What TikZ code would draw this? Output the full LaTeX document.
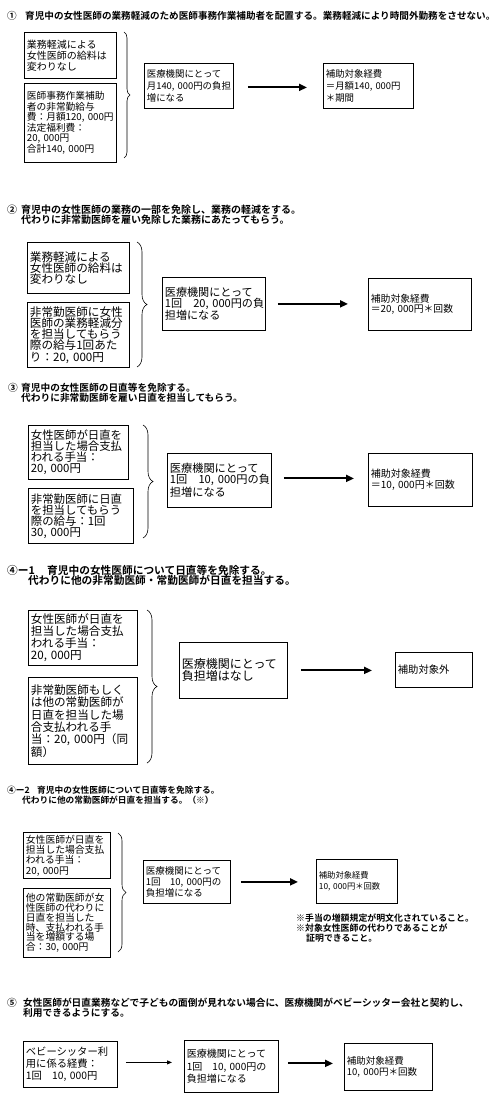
\documentclass[tikz,border=0pt]{standalone}
\usepackage{fontspec}
\setmainfont{Noto Sans CJK JP}[BoldFont={Noto Sans CJK JP Bold}]
\usetikzlibrary{decorations.pathreplacing,arrows.meta,calc}
\newcommand\myfs[2]{\fontsize{#1pt}{#2pt}\selectfont}
\begin{document}
\begin{tikzpicture}[x=1pt,y=-1pt,
  bx/.style={draw,line width=0.8pt,anchor=north west,align=left,inner xsep=2.5pt,inner ysep=0pt},
  ttl/.style={anchor=west,inner sep=0pt,font=\bfseries\myfs{#1}{#1}},
  brc/.style={decorate,decoration={brace,amplitude=#1pt},line width=0.6pt},
  arr/.style={line width=1.9pt,-{Triangle[length=8pt,width=7pt]}},
  arrthin/.style={line width=0.8pt,-{Triangle[length=5pt,width=4pt]}}]
\fill[white] (0,0) rectangle (500,1099);
\useasboundingbox (0,0) rectangle (500,1099);

% ---------- Section 1
\node[ttl=9.6] (n1) at (7,16) {①};
\node[ttl=9.6] (t1) at (25,16) {育児中の女性医師の業務軽減のため医師事務作業補助者を配置する。業務軽減により時間外勤務をさせない。};
\node[bx,text width=87pt,minimum height=46pt,font=\myfs{10}{11}] (a1) at (24,32) {業務軽減による\\女性医師の給料は\\変わりなし};
\node[bx,text width=87pt,minimum height=79pt,font=\myfs{9.7}{10.6}] (b1) at (24,83) {医師事務作業補助\\者の非常勤給与\\費：月額120,~000円\\法定福利費：\\20,~000円\\合計140,~000円};
\coordinate (b1t) at (124,32);
\coordinate (b1b) at (124,158);
\draw[brc=6] (b1t) -- (b1b);
\node[bx,text width=84pt,minimum height=45pt,font=\myfs{9.4}{12}] (m1) at (144,63) {医療機関にとって\\月140,~000円の負担\\増になる};
\node[bx,text width=85pt,minimum height=45pt,font=\myfs{9.4}{12}] (r1) at (323,63) {補助対象経費\\＝月額140,~000円\\＊期間};
\draw[arr] ($(m1.east)+(14,1.5)$) -- ($(r1.west)+(-16,1.5)$);

% ---------- Section 2
\node[ttl=10] (n2) at (7,210) {②};
\node[ttl=10] (t2a) at (21,210) {育児中の女性医師の業務の一部を免除し、業務の軽減をする。};
\node[ttl=10] (t2b) at (21,220) {代わりに非常勤医師を雇い免除した業務にあたってもらう。};
\node[bx,text width=97pt,minimum height=51pt,font=\myfs{11.6}{11}] (a2) at (27,242) {業務軽減による\\女性医師の給料は\\変わりなし};
\node[bx,text width=97pt,minimum height=65pt,font=\myfs{11.6}{11.2}] (b2) at (27,302) {非常勤医師に女性\\医師の業務軽減分\\を担当してもらう\\際の給与1回あた\\り：20,~000円};
\coordinate (b2t) at (137,242);
\coordinate (b2b) at (137,367);
\draw[brc=10] (b2t) -- (b2b);
\node[bx,text width=98pt,minimum height=53pt,font=\myfs{11.1}{11}] (m2) at (162,277) {医療機関にとって\\1回　20,~000円の負\\担増になる};
\node[bx,text width=98pt,minimum height=52pt,font=\myfs{9.8}{10.5}] (r2) at (368,278) {補助対象経費\\＝20,~000円＊回数};
\draw[arr] ($(m2.east)+(12,0)$) -- ($(r2.west |- m2.east)+(-20,0)$);

% ---------- Section 3
\node[ttl=9.7] (n3) at (8,388) {③};
\node[ttl=9.7] (t3a) at (21,388) {育児中の女性医師の日直等を免除する。};
\node[ttl=9.7] (t3b) at (21,398) {代わりに非常勤医師を雇い日直を担当してもらう。};
\node[bx,text width=95pt,minimum height=54pt,font=\myfs{11.4}{11}] (a3) at (28,425) {女性医師が日直を\\担当した場合支払\\われる手当：\\20,~000円};
\node[bx,text width=100pt,minimum height=55pt,font=\myfs{11.4}{11}] (b3) at (28,488) {非常勤医師に日直\\を担当してもらう\\際の給与：1回\\30,~000円};
\coordinate (b3t) at (143,425);
\coordinate (b3b) at (143,538);
\draw[brc=10] (b3t) -- (b3b);
\node[bx,text width=99pt,minimum height=54pt,font=\myfs{11.2}{11}] (m3) at (167,453) {医療機関にとって\\1回　10,~000円の負\\担増になる};
\node[bx,text width=99pt,minimum height=53pt,font=\myfs{10}{10.5}] (r3) at (368,453) {補助対象経費\\＝10,~000円＊回数};
\draw[arr] ($(m3.east)+(12,-2)$) -- ($(r3.west |- m3.east)+(-14,-2)$);

% ---------- Section 4-1
\node[ttl=10.7] (n4) at (7,570) {④ー1};
\node[ttl=10.7] (t4a) at (47,570) {育児中の女性医師について日直等を免除する。};
\node[ttl=10.7] (t4b) at (28,580) {代わりに他の非常勤医師・常勤医師が日直を担当する。};
\node[bx,text width=104pt,minimum height=55pt,font=\myfs{11.6}{12}] (a4) at (28,610) {女性医師が日直を\\担当した場合支払\\われる手当：\\20,~000円};
\node[bx,text width=104pt,minimum height=87pt,font=\myfs{11.6}{12.4}] (b4) at (28,677) {非常勤医師もしく\\は他の常勤医師が\\日直を担当した場\\合支払われる手\\当：20,~000円（同\\額）};
\coordinate (b4t) at (147,610);
\coordinate (b4b) at (147,763);
\draw[brc=10] (b4t) -- (b4b);
\node[bx,text width=103pt,minimum height=56pt,font=\myfs{12}{12}] (m4) at (179,642) {医療機関にとって\\負担増はなし};
\node[bx,text width=72pt,minimum height=35pt,font=\myfs{10.3}{12}] (r4) at (395,652) {補助対象外};
\draw[arr] ($(m4.east)+(13,0)$) -- ($(r4.west |- m4.east)+(-23,0)$);

% ---------- Section 4-2
\node[ttl=8.7] (n5) at (7,790) {④ー2};
\node[ttl=8.7] (t5a) at (37,790) {育児中の女性医師について日直等を免除する。};
\node[ttl=8.7] (t5b) at (22,800) {代わりに他の常勤医師が日直を担当する。（※）};
\node[bx,text width=82pt,minimum height=46pt,font=\myfs{9.8}{10.3}] (a5) at (23,832) {女性医師が日直を\\担当した場合支払\\われる手当：\\20,~000円};
\node[bx,text width=82pt,minimum height=69pt,font=\myfs{9.8}{9.8}] (b5) at (23,888) {他の常勤医師が女\\性医師の代わりに\\日直を担当した\\時、支払われる手\\当を増額する場\\合：30,~000円};
\coordinate (b5t) at (118,833);
\coordinate (b5b) at (118,952);
\draw[brc=8] (b5t) -- (b5b);
\node[bx,text width=82pt,minimum height=43pt,font=\myfs{9.5}{11}] (m5) at (143,860) {医療機関にとって\\1回　10,~000円の\\負担増になる};
\node[bx,text width=76pt,minimum height=44pt,font=\myfs{8.3}{11}] (r5) at (316,859) {補助対象経費\\10,~000円＊回数};
\draw[arr] ($(m5.east)+(10,0)$) -- ($(r5.west |- m5.east)+(-18,0)$);
\node[ttl=8.9] (note1) at (296,918) {※手当の増額規定が明文化されていること。};
\node[ttl=8.9] (note2) at (296,928) {※対象女性医師の代わりであることが};
\node[ttl=8.9] (note3) at (306,938) {証明できること。};

% ---------- Section 5
\node[ttl=9.7] (n6) at (7,1003) {⑤};
\node[ttl=9.7] (t6a) at (23,1003) {女性医師が日直業務などで子どもの面倒が見れない場合に、医療機関がベビーシッター会社と契約し、};
\node[ttl=9.7] (t6b) at (23,1013) {利用できるようにする。};
\node[bx,text width=89pt,minimum height=46pt,font=\myfs{10.3}{12}] (a6) at (23,1041) {ベビーシッター利\\用に係る経費：\\1回　10,~000円};
\node[bx,text width=89pt,minimum height=52pt,font=\myfs{10}{12.5}] (b6) at (184,1040) {医療機関にとって\\1回　10,~000円の\\負担増になる};
\node[bx,text width=83pt,minimum height=47pt,font=\myfs{9.5}{11}] (c6) at (344,1043) {補助対象経費\\10,~000円＊回数};
\draw[arrthin] ($(a6.east)+(8,-2)$) -- ($(b6.west |- a6.east)+(-12,-2)$);
\draw[arr] ($(b6.east)+(9,-3)$) -- ($(c6.west |- b6.east)+(-11,-3)$);
\end{tikzpicture}
\end{document}
